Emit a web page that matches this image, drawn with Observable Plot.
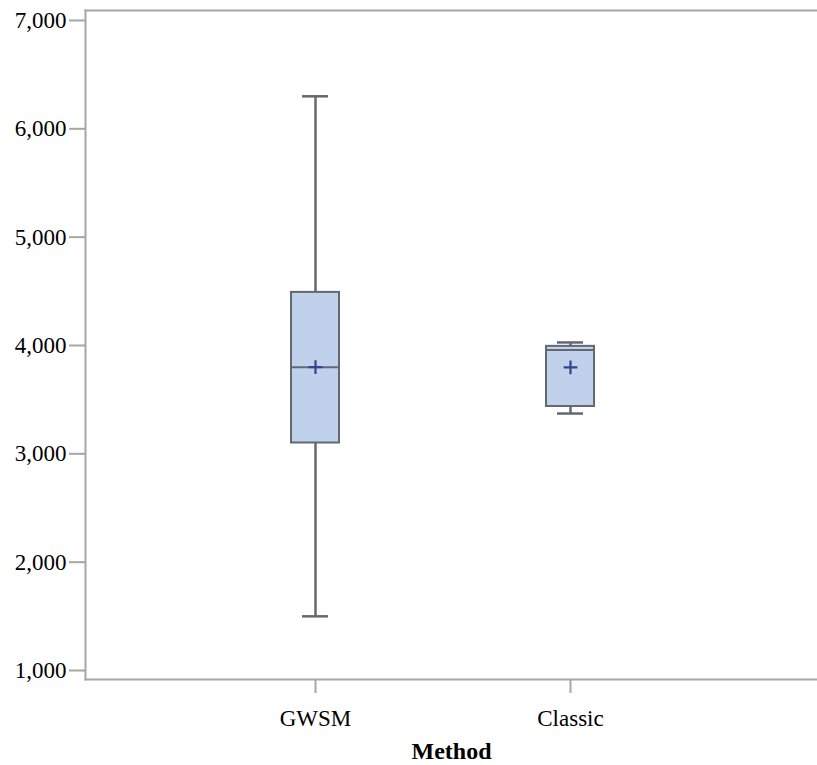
<!DOCTYPE html>
<html>
<head>
<meta charset="utf-8">
<script src="https://cdn.jsdelivr.net/npm/d3@7"></script>
<script src="https://cdn.jsdelivr.net/npm/@observablehq/plot@0.6"></script>
<style>
  html, body { margin: 0; padding: 0; background: #fff; }
  #chart svg { display: block; }
  #chart svg text, #chart svg g { font-family: "Liberation Serif", "Times New Roman", serif !important; }
</style>
</head>
<body>
<div id="chart"></div>
<script>
const methods = ["GWSM", "Classic"];
const whiskerLow = [1500, 3372];
const q1 = [3100, 3437];
const median = [3800, 3958];
const q3 = [4490, 3992];
const whiskerHigh = [6300, 4028];
const mean = [3800, 3798];
const yTicks = [1000, 2000, 3000, 4000, 5000, 6000, 7000];

const data = methods.map((m, i) => ({
  method: m, low: whiskerLow[i], q1: q1[i], median: median[i],
  q3: q3[i], high: whiskerHigh[i], mean: mean[i]
}));

const boxStroke = "#646870";
const frameColor = "#a6a6a6";
const serif = "'Liberation Serif', 'Times New Roman', serif";

const chart = Plot.plot({
  width: 817,
  height: 765,
  marginLeft: 85,
  marginRight: 0,
  marginTop: 10,
  marginBottom: 86,
  style: { fontFamily: serif, fontSize: "23px", color: "#000", background: "#fff" },
  x: { type: "band", domain: methods, paddingInner: 0.812, paddingOuter: 0, insetLeft: 206, insetRight: 223 },
  y: { domain: [917, 7092] },
  marks: [
    Plot.frame({ anchor: "left", stroke: frameColor, strokeWidth: 2 }),
    Plot.frame({ anchor: "top", stroke: frameColor, strokeWidth: 2 }),
    Plot.frame({ anchor: "bottom", stroke: frameColor, strokeWidth: 2 }),
    Plot.axisY({ ticks: yTicks, tickFormat: d3.format(","), tickSize: 16, tickPadding: 3, stroke: frameColor, strokeWidth: 2, label: null, fontFamily: serif }),
    Plot.axisX({ tickSize: 14, tickPadding: 16, stroke: frameColor, strokeWidth: 2, label: "Method", labelAnchor: "center", labelOffset: 79, fontFamily: serif }),
    // whiskers
    Plot.ruleX(data, { x: "method", y1: "low", y2: "q1", stroke: boxStroke, strokeWidth: 2.5 }),
    Plot.ruleX(data, { x: "method", y1: "q3", y2: "high", stroke: boxStroke, strokeWidth: 2.5 }),
    Plot.tickY(data, { x: "method", y: "low", stroke: boxStroke, strokeWidth: 2.5, insetLeft: 11, insetRight: 11 }),
    Plot.tickY(data, { x: "method", y: "high", stroke: boxStroke, strokeWidth: 2.5, insetLeft: 11, insetRight: 11 }),
    // boxes
    Plot.barY(data, { x: "method", y1: "q1", y2: "q3", fill: "#bfd1eb", stroke: boxStroke, strokeWidth: 2 }),
    Plot.tickY(data, { x: "method", y: "median", stroke: boxStroke, strokeWidth: 2 }),
    // mean
    Plot.dot(data, { x: "method", y: "mean", symbol: "plus", r: 4.5, fill: "none", stroke: "#34448e", strokeWidth: 2.2 })
  ]
});

const svg = d3.select(chart);
svg.attr("font-family", serif);
svg.selectAll("text").attr("font-family", serif);
svg.selectAll("g[aria-label='y-axis tick label'], g[aria-label='x-axis tick label']")
  .attr("font-size", 23);
svg.selectAll("g[aria-label='y-axis tick label'] text, g[aria-label='x-axis tick label'] text")
  .attr("font-size", 23);
svg.selectAll("g[aria-label='x-axis label'], g[aria-label='x-axis label'] text")
  .attr("font-weight", "bold").attr("font-size", 24);

document.getElementById("chart").appendChild(chart);
</script>
</body>
</html>
